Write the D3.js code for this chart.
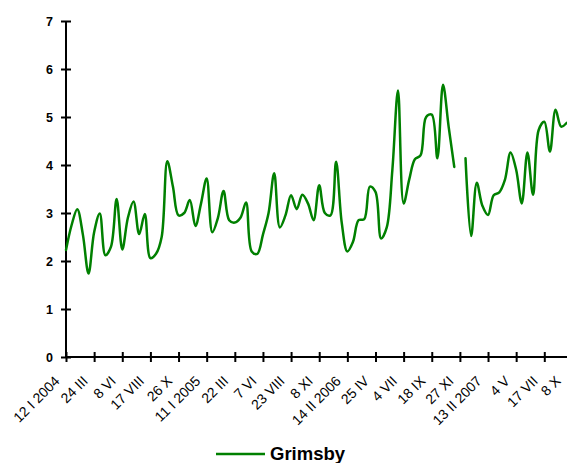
<!DOCTYPE html>
<html>
<head>
<meta charset="utf-8">
<script src="https://cdn.jsdelivr.net/npm/d3@7"></script>
<style>
  html, body { margin: 0; padding: 0; background: #fff; overflow: hidden; }
  svg { display: block; }
  text { font-family: "Liberation Sans", Arial, sans-serif; fill: #000; }
</style>
</head>
<body>
<script>
// ---- data ----
const tickLabels = ["12 I 2004", "24 III", "8 VI", "17 VIII", "26 X", "11 I 2005", "22 III", "7 VI",
  "23 VIII", "8 XI", "14 II 2006", "25 IV", "4 VII", "18 IX", "27 XI", "13 II 2007", "4 V", "17 VII", "8 X"];
const pointsPerLabel = 5;
const seriesName = "Grimsby";
const values = [
  2.23, 2.75, 3.08, 2.55, 1.74, 2.6, 2.99, 2.12, 2.3, 3.29,
  2.24, 2.9, 3.24, 2.56, 2.98, 2.06, 2.15, 2.5, 4.08, 3.55,
  2.95, 3.0, 3.27, 2.73, 3.2, 3.72, 2.6, 2.9, 3.46, 2.85,
  2.8, 2.9, 3.22, 2.2, 2.15, 2.55, 3.0, 3.83, 2.7, 2.95,
  3.37, 3.08, 3.38, 3.2, 2.85, 3.58, 3.0, 2.95, 4.07, 2.8,
  2.2, 2.4, 2.85, 2.87, 3.55, 3.44, 2.47, 2.7, 3.9, 5.55,
  3.2, 3.7, 4.12, 4.2, 5.0, 5.05, 4.14, 5.67, 4.8, 3.96,
  null, 4.14, 2.52, 3.63, 3.15, 2.96, 3.37, 3.43, 3.69, 4.26,
  3.9, 3.2, 4.26, 3.38, 4.73, 4.9, 4.28, 5.15, 4.8, 4.88
];
const yTicks = [0, 1, 2, 3, 4, 5, 6, 7];

// ---- layout ----
const W = 567, H = 463;
const mLeft = 66, mTop = 21, mBottom = 357;
const step = 28.135 / pointsPerLabel;

const svg = d3.select("body").append("svg").attr("width", W).attr("height", H);

const x = d3.scaleLinear().domain([0, values.length - 1]).range([mLeft, mLeft + step * (values.length - 1)]);
const y = d3.scaleLinear().domain([0, 7]).range([mBottom, mTop]);

// y axis
const yAxis = svg.append("g").attr("transform", `translate(${mLeft},0)`)
  .call(d3.axisLeft(y).tickValues(yTicks).tickFormat(d3.format("d")).tickSize(5).tickPadding(8));
yAxis.select(".domain").attr("stroke", "#000").attr("stroke-width", 2).attr("d", `M0,${mTop}V${mBottom}`);
yAxis.selectAll(".tick line").attr("x1", -5).attr("x2", 5).attr("stroke", "#000").attr("stroke-width", 2);
yAxis.selectAll(".tick text").attr("font-size", 12.5).attr("font-weight", "bold")
  .attr("font-family", "Liberation Sans, Arial, sans-serif").attr("x", -13);

// x axis
const tickIdx = tickLabels.map((_, i) => i * pointsPerLabel);
const xAxis = svg.append("g").attr("transform", `translate(0,${mBottom})`)
  .call(d3.axisBottom(x).tickValues(tickIdx).tickFormat((d, i) => tickLabels[i]).tickSize(5));
xAxis.select(".domain").attr("stroke", "#000").attr("stroke-width", 2).attr("d", `M${mLeft},0H${W + 10}`);
xAxis.selectAll(".tick line").attr("y1", -5).attr("y2", 5).attr("stroke", "#000").attr("stroke-width", 2);
xAxis.selectAll(".tick text")
  .attr("font-size", 14).attr("font-weight", "normal")
  .attr("font-family", "Liberation Sans, Arial, sans-serif")
  .attr("text-anchor", "end").attr("dy", null).attr("y", null)
  .attr("transform", d => {
    const tx = x(d);
    const ax = Math.min(tx - 6, W - 6);
    return `translate(${ax - tx},25) rotate(-45)`;
  });

// line
const line = d3.line()
  .defined(d => d != null)
  .x((d, i) => x(i))
  .y(d => y(d))
  .curve(d3.curveCatmullRom.alpha(0.5));
svg.append("path").datum(values)
  .attr("fill", "none").attr("stroke", "#008000").attr("stroke-width", 2.5)
  .attr("stroke-linejoin", "round").attr("stroke-linecap", "round")
  .attr("d", line);

// legend
const lg = svg.append("g").attr("transform", "translate(216,454)");
lg.append("line").attr("x1", 0).attr("x2", 49).attr("y1", 0).attr("y2", 0)
  .attr("stroke", "#008000").attr("stroke-width", 2.5);
lg.append("text").attr("x", 54).attr("y", 6).attr("font-size", 18.5).attr("font-weight", "bold").text(seriesName);
</script>
</body>
</html>
